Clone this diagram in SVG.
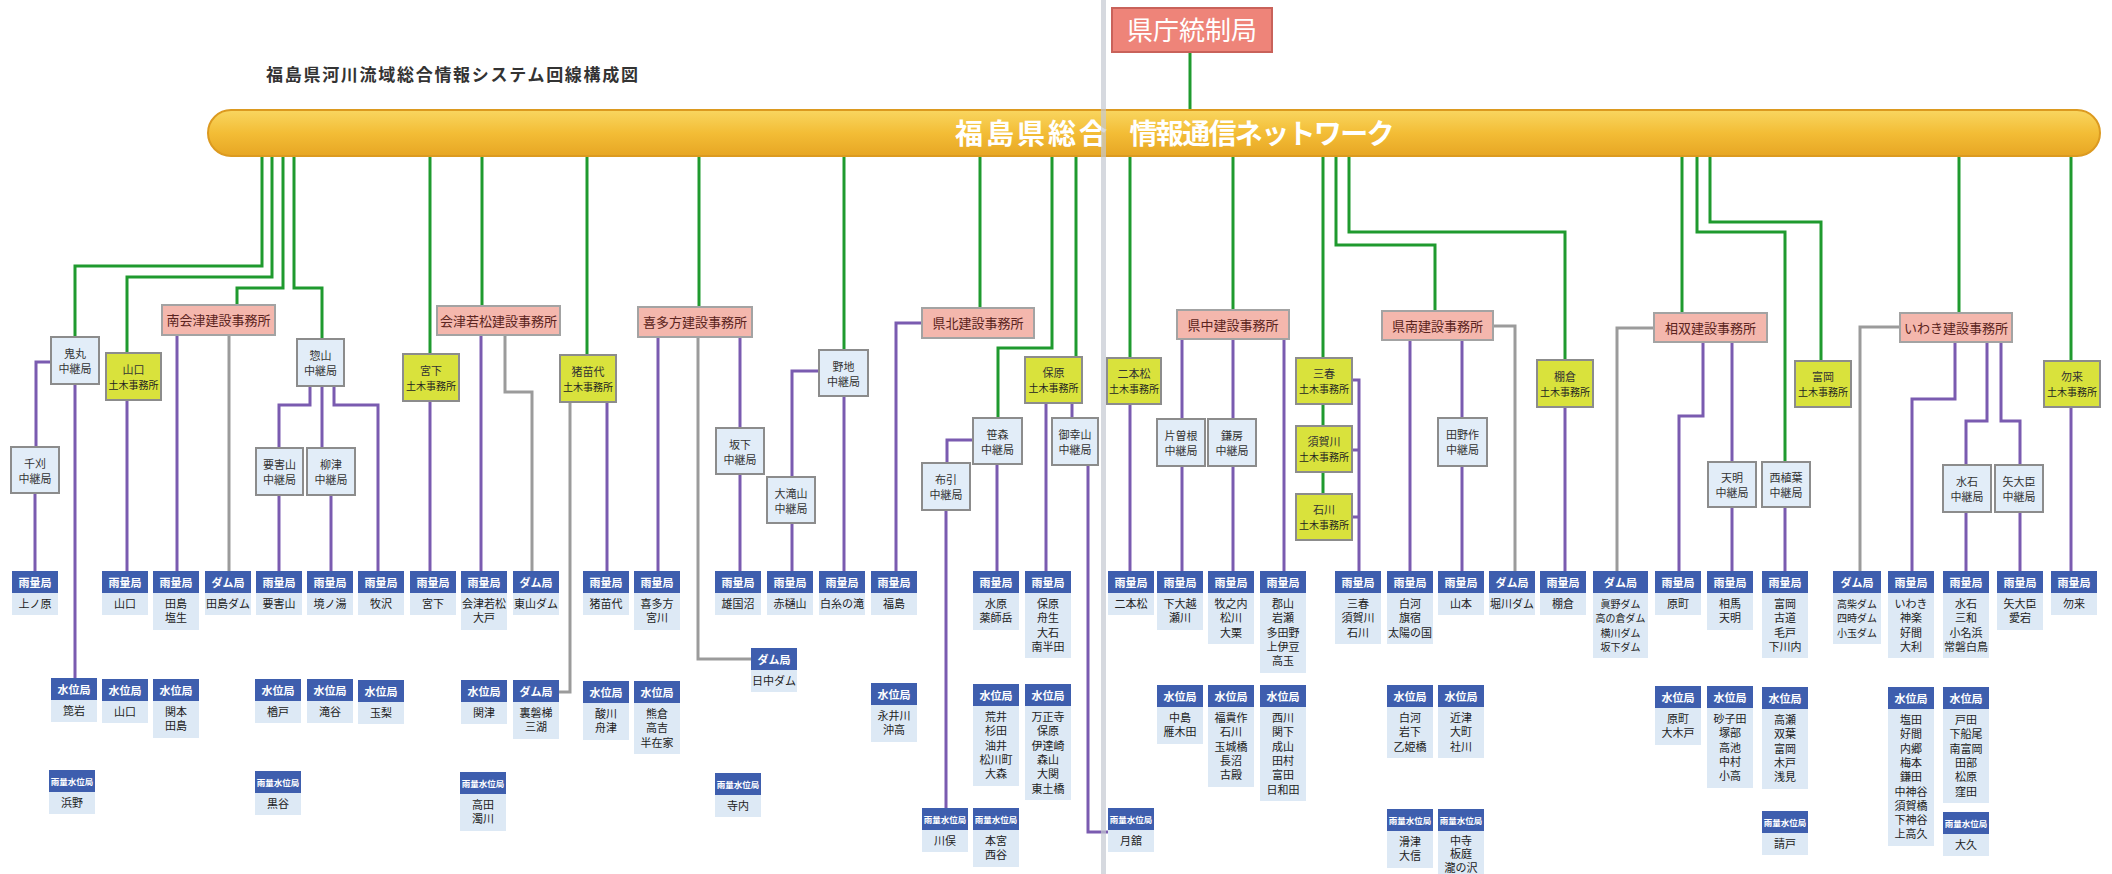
<svg xmlns="http://www.w3.org/2000/svg" width="2112" height="874" viewBox="0 0 2112 874">
<defs>
<linearGradient id="barg" x1="0" y1="0" x2="0" y2="1">
<stop offset="0" stop-color="#f9d660"/><stop offset="0.5" stop-color="#f3bd36"/><stop offset="1" stop-color="#e7a624"/>
</linearGradient>
</defs>
<style>
text{font-family:"Noto Sans CJK JP","Noto Sans",sans-serif;text-anchor:middle}
.hd{fill:#3e5eae}
.bd{fill:#dde9f5}
.ht{font-size:11px;font-weight:bold;fill:#fff}
.hs{font-size:8.5px;font-weight:bold;fill:#fff}
.bt{font-size:11px;fill:#222}
.bs{font-size:10px;fill:#222}
.relay{fill:#e2edf8;stroke:#8c8c8c;stroke-width:2}
.civ{fill:#d9e23c;stroke:#8c8c8c;stroke-width:2}
.off{fill:#f4b7ad;stroke:#a3a3a3;stroke-width:2}
.rt{font-size:11px;fill:#333}
.ct{font-size:10px;fill:#222}
.ot{font-size:13px;fill:#5b2420}
.g{stroke:#1f9a2e;stroke-width:3;fill:none}
.p{stroke:#7a5bb0;stroke-width:3;fill:none}
.gr{stroke:#9b9b9b;stroke-width:3;fill:none}
</style>
<rect width="2112" height="874" fill="#ffffff"/>
<text x="452" y="81" style="font-size:17px;font-weight:bold;fill:#333" textLength="372">福島県河川流域総合情報システム回線構成図</text>

<g id="connectors">
<g id="green">
<path class="g" d="M1190,52V112"/>
<path class="g" d="M262,155V266H75V337"/>
<path class="g" d="M272,155V277H127V353"/>
<path class="g" d="M283,155V288H237V305"/>
<path class="g" d="M294,155V288H322V339"/>
<path class="g" d="M430,155V354"/>
<path class="g" d="M482,155V306"/>
<path class="g" d="M587,155V355"/>
<path class="g" d="M699,155V307"/>
<path class="g" d="M844,155V350"/>
<path class="g" d="M980,155V308"/>
<path class="g" d="M1052,155V348H998V418"/>
<path class="g" d="M1076,155V357"/>
<path class="g" d="M1130,155V358"/>
<path class="g" d="M1233,155V310"/>
<path class="g" d="M1323,155V358M1323,404V426M1323,472V494"/>
<path class="g" d="M1336,155V245H1435V311"/>
<path class="g" d="M1349,155V232H1565V360"/>
<path class="g" d="M1682,155V313"/>
<path class="g" d="M1697,155V232H1785V462"/>
<path class="g" d="M1710,155V222H1821V361"/>
<path class="g" d="M1959,155V313"/>
<path class="g" d="M2071,155V361"/>
</g>
<g id="purple">
<path class="p" d="M51,362H36V447"/>
<path class="p" d="M35,493V571"/>
<path class="p" d="M75,384V678"/>
<path class="p" d="M127,400V571"/>
<path class="p" d="M177,335V571"/>
<path class="p" d="M310,386V405H279V448"/>
<path class="p" d="M322,386V448"/>
<path class="p" d="M334,386V405H378V571"/>
<path class="p" d="M279,495V571"/>
<path class="p" d="M331,495V571"/>
<path class="p" d="M430,401V571"/>
<path class="p" d="M481,335V571"/>
<path class="p" d="M607,402V571"/>
<path class="p" d="M658,337V571"/>
<path class="p" d="M740,337V428"/>
<path class="p" d="M740,474V571"/>
<path class="p" d="M819,371H792V477"/>
<path class="p" d="M792,523V571"/>
<path class="p" d="M844,396V571"/>
<path class="p" d="M922,323H896V571"/>
<path class="p" d="M973,440H947V463"/>
<path class="p" d="M946,510V808"/>
<path class="p" d="M997,464V571"/>
<path class="p" d="M1046,403V571"/>
<path class="p" d="M1072,403V418"/>
<path class="p" d="M1088,465V832H1108"/>
<path class="p" d="M1130,404V571"/>
<path class="p" d="M1182,339V419"/>
<path class="p" d="M1233,339V419"/>
<path class="p" d="M1284,339V571"/>
<path class="p" d="M1182,466V571"/>
<path class="p" d="M1233,466V571"/>
<path class="p" d="M1352,380H1359V571M1352,450H1359M1352,517H1359"/>
<path class="p" d="M1410,340V571"/>
<path class="p" d="M1462,340V418"/>
<path class="p" d="M1462,466V571"/>
<path class="p" d="M1565,407V571"/>
<path class="p" d="M1703,342V416H1679V571"/>
<path class="p" d="M1732,342V462"/>
<path class="p" d="M1732,507V571"/>
<path class="p" d="M1785,507V571"/>
<path class="p" d="M1955,342V399H1912V571"/>
<path class="p" d="M1987,342V421H1966V465"/>
<path class="p" d="M2001,342V421H2020V465"/>
<path class="p" d="M1966,512V571"/>
<path class="p" d="M2020,512V571"/>
<path class="p" d="M2071,407V571"/>
</g>
<g id="gray">
<path class="gr" d="M229,335V571"/>
<path class="gr" d="M505,335V392H532V571"/>
<path class="gr" d="M570,402V692H559"/>
<path class="gr" d="M698,337V659H751"/>
<path class="gr" d="M1493,326H1515V571"/>
<path class="gr" d="M1654,328H1617V571"/>
<path class="gr" d="M1900,327H1860V571"/>
</g>
</g>

<g id="kencho"><rect x="1112" y="8" width="160" height="44" fill="#ee8479" stroke="#c9625a" stroke-width="2"/><text x="1192" y="40" style="font-size:26px;fill:#fff">県庁統制局</text></g>

<g id="network"><rect x="208" y="110" width="1892" height="46" rx="23" fill="url(#barg)" stroke="#dc9a20" stroke-width="2"/>
<text x="1031" y="144" style="font-size:28px;font-weight:bold;fill:#fff" textLength="152">福島県総合</text>
<text x="1262" y="144" style="font-size:28px;font-weight:bold;fill:#fff" textLength="265">情報通信ネットワーク</text></g>

<g id="offices">
<g id="o-minamiaizu"><rect class="off" x="162" y="305" width="113" height="30"/><text class="ot" x="218.5" y="325">南会津建設事務所</text></g>
<g id="o-aizuwakamatsu"><rect class="off" x="437" y="306" width="123" height="29"/><text class="ot" x="498.5" y="325.5">会津若松建設事務所</text></g>
<g id="o-kitakata"><rect class="off" x="638" y="307" width="114" height="30"/><text class="ot" x="695" y="327">喜多方建設事務所</text></g>
<g id="o-kenpoku"><rect class="off" x="922" y="308" width="112" height="30"/><text class="ot" x="978" y="328">県北建設事務所</text></g>
<g id="o-kenchu"><rect class="off" x="1177" y="310" width="112" height="29"/><text class="ot" x="1233" y="329.5">県中建設事務所</text></g>
<g id="o-kennan"><rect class="off" x="1382" y="311" width="111" height="29"/><text class="ot" x="1437.5" y="330.5">県南建設事務所</text></g>
<g id="o-soso"><rect class="off" x="1654" y="313" width="113" height="29"/><text class="ot" x="1710.5" y="332.5">相双建設事務所</text></g>
<g id="o-iwaki"><rect class="off" x="1900" y="313" width="112" height="29"/><text class="ot" x="1956" y="332.5">いわき建設事務所</text></g>
</g>

<g id="civil">
<g id="c-yamaguchi"><rect class="civ" x="106" y="353" width="55" height="47"/><text class="rt" x="133.5" y="374">山口</text><text class="ct" x="133.5" y="389">土木事務所</text></g>
<g id="c-miyashita"><rect class="civ" x="403" y="354" width="56" height="47"/><text class="rt" x="431" y="375">宮下</text><text class="ct" x="431" y="390">土木事務所</text></g>
<g id="c-inawashiro"><rect class="civ" x="560" y="355" width="56" height="47"/><text class="rt" x="588" y="376">猪苗代</text><text class="ct" x="588" y="391">土木事務所</text></g>
<g id="c-hobara"><rect class="civ" x="1025" y="357" width="57" height="46"/><text class="rt" x="1053.5" y="377">保原</text><text class="ct" x="1053.5" y="392">土木事務所</text></g>
<g id="c-nihonmatsu"><rect class="civ" x="1107" y="358" width="54" height="46"/><text class="rt" x="1134" y="378">二本松</text><text class="ct" x="1134" y="393">土木事務所</text></g>
<g id="c-miharu"><rect class="civ" x="1296" y="358" width="56" height="46"/><text class="rt" x="1324" y="378">三春</text><text class="ct" x="1324" y="393">土木事務所</text></g>
<g id="c-sukagawa"><rect class="civ" x="1296" y="426" width="56" height="46"/><text class="rt" x="1324" y="446">須賀川</text><text class="ct" x="1324" y="461">土木事務所</text></g>
<g id="c-ishikawa"><rect class="civ" x="1296" y="494" width="56" height="46"/><text class="rt" x="1324" y="514">石川</text><text class="ct" x="1324" y="529">土木事務所</text></g>
<g id="c-tanagura"><rect class="civ" x="1537" y="360" width="56" height="47"/><text class="rt" x="1565" y="381">棚倉</text><text class="ct" x="1565" y="396">土木事務所</text></g>
<g id="c-tomioka"><rect class="civ" x="1795" y="361" width="56" height="46"/><text class="rt" x="1823" y="381">富岡</text><text class="ct" x="1823" y="396">土木事務所</text></g>
<g id="c-nakoso"><rect class="civ" x="2044" y="361" width="56" height="46"/><text class="rt" x="2072" y="381">勿来</text><text class="ct" x="2072" y="396">土木事務所</text></g>
</g>

<g id="relays">
<g id="r-onimaru"><rect class="relay" x="51" y="337" width="48" height="47"/><text class="rt" x="75" y="358">鬼丸</text><text class="rt" x="75" y="373">中継局</text></g>
<g id="r-sengari"><rect class="relay" x="11" y="447" width="48" height="46"/><text class="rt" x="35" y="468">千刈</text><text class="rt" x="35" y="483">中継局</text></g>
<g id="r-sozan"><rect class="relay" x="297" y="339" width="47" height="47"/><text class="rt" x="320.5" y="360">惣山</text><text class="rt" x="320.5" y="375">中継局</text></g>
<g id="r-yogaiyama"><rect class="relay" x="256" y="448" width="47" height="47"/><text class="rt" x="279.5" y="469">要害山</text><text class="rt" x="279.5" y="484">中継局</text></g>
<g id="r-yanaizu"><rect class="relay" x="307" y="448" width="48" height="47"/><text class="rt" x="331" y="469">柳津</text><text class="rt" x="331" y="484">中継局</text></g>
<g id="r-sakashita"><rect class="relay" x="716" y="428" width="48" height="46"/><text class="rt" x="740" y="449">坂下</text><text class="rt" x="740" y="464">中継局</text></g>
<g id="r-noji"><rect class="relay" x="819" y="350" width="49" height="46"/><text class="rt" x="843.5" y="371">野地</text><text class="rt" x="843.5" y="386">中継局</text></g>
<g id="r-otakiyama"><rect class="relay" x="767" y="477" width="48" height="46"/><text class="rt" x="791" y="498">大滝山</text><text class="rt" x="791" y="513">中継局</text></g>
<g id="r-sasamori"><rect class="relay" x="973" y="418" width="49" height="46"/><text class="rt" x="997.5" y="439">笹森</text><text class="rt" x="997.5" y="454">中継局</text></g>
<g id="r-nunobiki"><rect class="relay" x="922" y="463" width="48" height="47"/><text class="rt" x="946" y="484">布引</text><text class="rt" x="946" y="499">中継局</text></g>
<g id="r-miyukiyama"><rect class="relay" x="1052" y="418" width="46" height="47"/><text class="rt" x="1075" y="439">御幸山</text><text class="rt" x="1075" y="454">中継局</text></g>
<g id="r-katasone"><rect class="relay" x="1157" y="419" width="48" height="47"/><text class="rt" x="1181" y="440">片曽根</text><text class="rt" x="1181" y="455">中継局</text></g>
<g id="r-kamafusa"><rect class="relay" x="1208" y="419" width="48" height="47"/><text class="rt" x="1232" y="440">鎌房</text><text class="rt" x="1232" y="455">中継局</text></g>
<g id="r-tanosaku"><rect class="relay" x="1438" y="418" width="49" height="48"/><text class="rt" x="1462.5" y="439">田野作</text><text class="rt" x="1462.5" y="454">中継局</text></g>
<g id="r-tenmei"><rect class="relay" x="1708" y="462" width="48" height="45"/><text class="rt" x="1732" y="482">天明</text><text class="rt" x="1732" y="497">中継局</text></g>
<g id="r-nishiueba"><rect class="relay" x="1762" y="462" width="48" height="45"/><text class="rt" x="1786" y="482">西植葉</text><text class="rt" x="1786" y="497">中継局</text></g>
<g id="r-mizuishi"><rect class="relay" x="1943" y="465" width="48" height="47"/><text class="rt" x="1967" y="486">水石</text><text class="rt" x="1967" y="501">中継局</text></g>
<g id="r-yadaijin"><rect class="relay" x="1995" y="465" width="48" height="47"/><text class="rt" x="2019" y="486">矢大臣</text><text class="rt" x="2019" y="501">中継局</text></g>
</g>

<g id="stations-rain">
<g id="u1"><rect class="hd" x="12" y="571" width="46" height="22"/><text class="ht" x="35" y="586.5">雨量局</text><rect class="bd" x="12" y="593" width="46" height="22"/><text class="bt" x="35" y="608">上ノ原</text></g>
<g id="u2"><rect class="hd" x="102" y="571" width="46" height="22"/><text class="ht" x="125" y="586.5">雨量局</text><rect class="bd" x="102" y="593" width="46" height="22"/><text class="bt" x="125" y="608">山口</text></g>
<g id="u3"><rect class="hd" x="153" y="571" width="46" height="22"/><text class="ht" x="176" y="586.5">雨量局</text><rect class="bd" x="153" y="593" width="46" height="37"/><text class="bt" x="176" y="608">田島</text><text class="bt" x="176" y="622">塩生</text></g>
<g id="d1"><rect class="hd" x="205" y="571" width="46" height="22"/><text class="ht" x="228" y="586.5">ダム局</text><rect class="bd" x="205" y="593" width="46" height="22"/><text class="bt" x="228" y="608">田島ダム</text></g>
<g id="u4"><rect class="hd" x="256" y="571" width="46" height="22"/><text class="ht" x="279" y="586.5">雨量局</text><rect class="bd" x="256" y="593" width="46" height="22"/><text class="bt" x="279" y="608">要害山</text></g>
<g id="u5"><rect class="hd" x="307" y="571" width="46" height="22"/><text class="ht" x="330" y="586.5">雨量局</text><rect class="bd" x="307" y="593" width="46" height="22"/><text class="bt" x="330" y="608">境ノ湯</text></g>
<g id="u6"><rect class="hd" x="358" y="571" width="46" height="22"/><text class="ht" x="381" y="586.5">雨量局</text><rect class="bd" x="358" y="593" width="46" height="22"/><text class="bt" x="381" y="608">牧沢</text></g>
<g id="u7"><rect class="hd" x="410" y="571" width="46" height="22"/><text class="ht" x="433" y="586.5">雨量局</text><rect class="bd" x="410" y="593" width="46" height="22"/><text class="bt" x="433" y="608">宮下</text></g>
<g id="u8"><rect class="hd" x="461" y="571" width="46" height="22"/><text class="ht" x="484" y="586.5">雨量局</text><rect class="bd" x="461" y="593" width="46" height="37"/><text class="bt" x="484" y="608">会津若松</text><text class="bt" x="484" y="622">大戸</text></g>
<g id="d2"><rect class="hd" x="513" y="571" width="46" height="22"/><text class="ht" x="536" y="586.5">ダム局</text><rect class="bd" x="513" y="593" width="46" height="22"/><text class="bt" x="536" y="608">東山ダム</text></g>
<g id="u9"><rect class="hd" x="583" y="571" width="46" height="22"/><text class="ht" x="606" y="586.5">雨量局</text><rect class="bd" x="583" y="593" width="46" height="22"/><text class="bt" x="606" y="608">猪苗代</text></g>
<g id="u10"><rect class="hd" x="634" y="571" width="46" height="22"/><text class="ht" x="657" y="586.5">雨量局</text><rect class="bd" x="634" y="593" width="46" height="37"/><text class="bt" x="657" y="608">喜多方</text><text class="bt" x="657" y="622">宮川</text></g>
<g id="u11"><rect class="hd" x="715" y="571" width="46" height="22"/><text class="ht" x="738" y="586.5">雨量局</text><rect class="bd" x="715" y="593" width="46" height="22"/><text class="bt" x="738" y="608">雄国沼</text></g>
<g id="u12"><rect class="hd" x="767" y="571" width="46" height="22"/><text class="ht" x="790" y="586.5">雨量局</text><rect class="bd" x="767" y="593" width="46" height="22"/><text class="bt" x="790" y="608">赤樋山</text></g>
<g id="u13"><rect class="hd" x="819" y="571" width="46" height="22"/><text class="ht" x="842" y="586.5">雨量局</text><rect class="bd" x="819" y="593" width="46" height="22"/><text class="bt" x="842" y="608">白糸の滝</text></g>
<g id="u14"><rect class="hd" x="871" y="571" width="46" height="22"/><text class="ht" x="894" y="586.5">雨量局</text><rect class="bd" x="871" y="593" width="46" height="22"/><text class="bt" x="894" y="608">福島</text></g>
<g id="u15"><rect class="hd" x="973" y="571" width="46" height="22"/><text class="ht" x="996" y="586.5">雨量局</text><rect class="bd" x="973" y="593" width="46" height="37"/><text class="bt" x="996" y="608">水原</text><text class="bt" x="996" y="622">薬師岳</text></g>
<g id="u16"><rect class="hd" x="1025" y="571" width="46" height="22"/><text class="ht" x="1048" y="586.5">雨量局</text><rect class="bd" x="1025" y="593" width="46" height="65"/><text class="bt" x="1048" y="608">保原</text><text class="bt" x="1048" y="622">舟生</text><text class="bt" x="1048" y="637">大石</text><text class="bt" x="1048" y="651">南半田</text></g>
<g id="u17"><rect class="hd" x="1108" y="571" width="46" height="22"/><text class="ht" x="1131" y="586.5">雨量局</text><rect class="bd" x="1108" y="593" width="46" height="22"/><text class="bt" x="1131" y="608">二本松</text></g>
<g id="u18"><rect class="hd" x="1157" y="571" width="46" height="22"/><text class="ht" x="1180" y="586.5">雨量局</text><rect class="bd" x="1157" y="593" width="46" height="37"/><text class="bt" x="1180" y="608">下大越</text><text class="bt" x="1180" y="622">瀬川</text></g>
<g id="u19"><rect class="hd" x="1208" y="571" width="46" height="22"/><text class="ht" x="1231" y="586.5">雨量局</text><rect class="bd" x="1208" y="593" width="46" height="51"/><text class="bt" x="1231" y="608">牧之内</text><text class="bt" x="1231" y="622">松川</text><text class="bt" x="1231" y="637">大栗</text></g>
<g id="u20"><rect class="hd" x="1260" y="571" width="46" height="22"/><text class="ht" x="1283" y="586.5">雨量局</text><rect class="bd" x="1260" y="593" width="46" height="80"/><text class="bt" x="1283" y="608">郡山</text><text class="bt" x="1283" y="622">岩瀬</text><text class="bt" x="1283" y="637">多田野</text><text class="bt" x="1283" y="651">上伊豆</text><text class="bt" x="1283" y="665">高玉</text></g>
<g id="u21"><rect class="hd" x="1335" y="571" width="46" height="22"/><text class="ht" x="1358" y="586.5">雨量局</text><rect class="bd" x="1335" y="593" width="46" height="51"/><text class="bt" x="1358" y="608">三春</text><text class="bt" x="1358" y="622">須賀川</text><text class="bt" x="1358" y="637">石川</text></g>
<g id="u22"><rect class="hd" x="1387" y="571" width="46" height="22"/><text class="ht" x="1410" y="586.5">雨量局</text><rect class="bd" x="1387" y="593" width="46" height="51"/><text class="bt" x="1410" y="608">白河</text><text class="bt" x="1410" y="622">旗宿</text><text class="bt" x="1410" y="637">太陽の国</text></g>
<g id="u23"><rect class="hd" x="1438" y="571" width="46" height="22"/><text class="ht" x="1461" y="586.5">雨量局</text><rect class="bd" x="1438" y="593" width="46" height="22"/><text class="bt" x="1461" y="608">山本</text></g>
<g id="d3"><rect class="hd" x="1489" y="571" width="46" height="22"/><text class="ht" x="1512" y="586.5">ダム局</text><rect class="bd" x="1489" y="593" width="46" height="22"/><text class="bt" x="1512" y="608">堀川ダム</text></g>
<g id="u24"><rect class="hd" x="1540" y="571" width="46" height="22"/><text class="ht" x="1563" y="586.5">雨量局</text><rect class="bd" x="1540" y="593" width="46" height="22"/><text class="bt" x="1563" y="608">棚倉</text></g>
<g id="d4"><rect class="hd" x="1593" y="571" width="55" height="22"/><text class="ht" x="1620.5" y="586.5">ダム局</text><rect class="bd" x="1593" y="593" width="55" height="65"/><text class="bs" x="1620.5" y="608">眞野ダム</text><text class="bs" x="1620.5" y="622">高の倉ダム</text><text class="bs" x="1620.5" y="637">横川ダム</text><text class="bs" x="1620.5" y="651">坂下ダム</text></g>
<g id="u25"><rect class="hd" x="1655" y="571" width="46" height="22"/><text class="ht" x="1678" y="586.5">雨量局</text><rect class="bd" x="1655" y="593" width="46" height="22"/><text class="bt" x="1678" y="608">原町</text></g>
<g id="u26"><rect class="hd" x="1707" y="571" width="46" height="22"/><text class="ht" x="1730" y="586.5">雨量局</text><rect class="bd" x="1707" y="593" width="46" height="37"/><text class="bt" x="1730" y="608">相馬</text><text class="bt" x="1730" y="622">天明</text></g>
<g id="u27"><rect class="hd" x="1762" y="571" width="46" height="22"/><text class="ht" x="1785" y="586.5">雨量局</text><rect class="bd" x="1762" y="593" width="46" height="65"/><text class="bt" x="1785" y="608">富岡</text><text class="bt" x="1785" y="622">古道</text><text class="bt" x="1785" y="637">毛戸</text><text class="bt" x="1785" y="651">下川内</text></g>
<g id="d5"><rect class="hd" x="1833" y="571" width="48" height="22"/><text class="ht" x="1857" y="586.5">ダム局</text><rect class="bd" x="1833" y="593" width="48" height="51"/><text class="bs" x="1857" y="608">高柴ダム</text><text class="bs" x="1857" y="622">四時ダム</text><text class="bs" x="1857" y="637">小玉ダム</text></g>
<g id="u28"><rect class="hd" x="1888" y="571" width="46" height="22"/><text class="ht" x="1911" y="586.5">雨量局</text><rect class="bd" x="1888" y="593" width="46" height="65"/><text class="bt" x="1911" y="608">いわき</text><text class="bt" x="1911" y="622">神楽</text><text class="bt" x="1911" y="637">好間</text><text class="bt" x="1911" y="651">大利</text></g>
<g id="u29"><rect class="hd" x="1943" y="571" width="46" height="22"/><text class="ht" x="1966" y="586.5">雨量局</text><rect class="bd" x="1943" y="593" width="46" height="65"/><text class="bt" x="1966" y="608">水石</text><text class="bt" x="1966" y="622">三和</text><text class="bt" x="1966" y="637">小名浜</text><text class="bt" x="1966" y="651">常磐白鳥</text></g>
<g id="u30"><rect class="hd" x="1997" y="571" width="46" height="22"/><text class="ht" x="2020" y="586.5">雨量局</text><rect class="bd" x="1997" y="593" width="46" height="37"/><text class="bt" x="2020" y="608">矢大臣</text><text class="bt" x="2020" y="622">愛宕</text></g>
<g id="u31"><rect class="hd" x="2051" y="571" width="46" height="22"/><text class="ht" x="2074" y="586.5">雨量局</text><rect class="bd" x="2051" y="593" width="46" height="22"/><text class="bt" x="2074" y="608">勿来</text></g>
</g>

<g id="stations-level">
<g id="w1"><rect class="hd" x="51" y="678" width="46" height="22"/><text class="ht" x="74" y="693.5">水位局</text><rect class="bd" x="51" y="700" width="46" height="22"/><text class="bt" x="74" y="715">箆岩</text></g>
<g id="w2"><rect class="hd" x="102" y="679" width="46" height="22"/><text class="ht" x="125" y="694.5">水位局</text><rect class="bd" x="102" y="701" width="46" height="22"/><text class="bt" x="125" y="716">山口</text></g>
<g id="w3"><rect class="hd" x="153" y="679" width="46" height="22"/><text class="ht" x="176" y="694.5">水位局</text><rect class="bd" x="153" y="701" width="46" height="37"/><text class="bt" x="176" y="716">関本</text><text class="bt" x="176" y="730">田島</text></g>
<g id="w4"><rect class="hd" x="255" y="679" width="46" height="22"/><text class="ht" x="278" y="694.5">水位局</text><rect class="bd" x="255" y="701" width="46" height="22"/><text class="bt" x="278" y="716">楢戸</text></g>
<g id="w5"><rect class="hd" x="307" y="679" width="46" height="22"/><text class="ht" x="330" y="694.5">水位局</text><rect class="bd" x="307" y="701" width="46" height="22"/><text class="bt" x="330" y="716">滝谷</text></g>
<g id="w6"><rect class="hd" x="358" y="680" width="46" height="22"/><text class="ht" x="381" y="695.5">水位局</text><rect class="bd" x="358" y="702" width="46" height="22"/><text class="bt" x="381" y="717">玉梨</text></g>
<g id="w7"><rect class="hd" x="461" y="680" width="46" height="22"/><text class="ht" x="484" y="695.5">水位局</text><rect class="bd" x="461" y="702" width="46" height="22"/><text class="bt" x="484" y="717">関津</text></g>
<g id="d6"><rect class="hd" x="513" y="680" width="46" height="22"/><text class="ht" x="536" y="695.5">ダム局</text><rect class="bd" x="513" y="702" width="46" height="37"/><text class="bt" x="536" y="717">裏磐梯</text><text class="bt" x="536" y="731">三湖</text></g>
<g id="w8"><rect class="hd" x="583" y="681" width="46" height="22"/><text class="ht" x="606" y="696.5">水位局</text><rect class="bd" x="583" y="703" width="46" height="37"/><text class="bt" x="606" y="718">酸川</text><text class="bt" x="606" y="732">舟津</text></g>
<g id="w9"><rect class="hd" x="634" y="681" width="46" height="22"/><text class="ht" x="657" y="696.5">水位局</text><rect class="bd" x="634" y="703" width="46" height="51"/><text class="bt" x="657" y="718">熊倉</text><text class="bt" x="657" y="732">高吉</text><text class="bt" x="657" y="747">半在家</text></g>
<g id="d7"><rect class="hd" x="751" y="648" width="46" height="22"/><text class="ht" x="774" y="663.5">ダム局</text><rect class="bd" x="751" y="670" width="46" height="22"/><text class="bt" x="774" y="685">日中ダム</text></g>
<g id="w10"><rect class="hd" x="871" y="683" width="46" height="22"/><text class="ht" x="894" y="698.5">水位局</text><rect class="bd" x="871" y="705" width="46" height="37"/><text class="bt" x="894" y="720">永井川</text><text class="bt" x="894" y="734">沖高</text></g>
<g id="w11"><rect class="hd" x="973" y="684" width="46" height="22"/><text class="ht" x="996" y="699.5">水位局</text><rect class="bd" x="973" y="706" width="46" height="80"/><text class="bt" x="996" y="721">荒井</text><text class="bt" x="996" y="735">杉田</text><text class="bt" x="996" y="750">油井</text><text class="bt" x="996" y="764">松川町</text><text class="bt" x="996" y="778">大森</text></g>
<g id="w12"><rect class="hd" x="1025" y="684" width="46" height="22"/><text class="ht" x="1048" y="699.5">水位局</text><rect class="bd" x="1025" y="706" width="46" height="94"/><text class="bt" x="1048" y="721">万正寺</text><text class="bt" x="1048" y="735">保原</text><text class="bt" x="1048" y="750">伊達崎</text><text class="bt" x="1048" y="764">森山</text><text class="bt" x="1048" y="778">大関</text><text class="bt" x="1048" y="793">東土橋</text></g>
<g id="w13"><rect class="hd" x="1157" y="685" width="46" height="22"/><text class="ht" x="1180" y="700.5">水位局</text><rect class="bd" x="1157" y="707" width="46" height="37"/><text class="bt" x="1180" y="722">中島</text><text class="bt" x="1180" y="736">雁木田</text></g>
<g id="w14"><rect class="hd" x="1208" y="685" width="46" height="22"/><text class="ht" x="1231" y="700.5">水位局</text><rect class="bd" x="1208" y="707" width="46" height="80"/><text class="bt" x="1231" y="722">福貴作</text><text class="bt" x="1231" y="736">石川</text><text class="bt" x="1231" y="751">玉城橋</text><text class="bt" x="1231" y="765">長沼</text><text class="bt" x="1231" y="779">古殿</text></g>
<g id="w15"><rect class="hd" x="1260" y="685" width="46" height="22"/><text class="ht" x="1283" y="700.5">水位局</text><rect class="bd" x="1260" y="707" width="46" height="94"/><text class="bt" x="1283" y="722">西川</text><text class="bt" x="1283" y="736">関下</text><text class="bt" x="1283" y="751">成山</text><text class="bt" x="1283" y="765">田村</text><text class="bt" x="1283" y="779">富田</text><text class="bt" x="1283" y="794">日和田</text></g>
<g id="w16"><rect class="hd" x="1387" y="685" width="46" height="22"/><text class="ht" x="1410" y="700.5">水位局</text><rect class="bd" x="1387" y="707" width="46" height="51"/><text class="bt" x="1410" y="722">白河</text><text class="bt" x="1410" y="736">岩下</text><text class="bt" x="1410" y="751">乙姫橋</text></g>
<g id="w17"><rect class="hd" x="1438" y="685" width="46" height="22"/><text class="ht" x="1461" y="700.5">水位局</text><rect class="bd" x="1438" y="707" width="46" height="51"/><text class="bt" x="1461" y="722">近津</text><text class="bt" x="1461" y="736">大町</text><text class="bt" x="1461" y="751">社川</text></g>
<g id="w18"><rect class="hd" x="1655" y="686" width="46" height="22"/><text class="ht" x="1678" y="701.5">水位局</text><rect class="bd" x="1655" y="708" width="46" height="37"/><text class="bt" x="1678" y="723">原町</text><text class="bt" x="1678" y="737">大木戸</text></g>
<g id="w19"><rect class="hd" x="1707" y="686" width="46" height="22"/><text class="ht" x="1730" y="701.5">水位局</text><rect class="bd" x="1707" y="708" width="46" height="80"/><text class="bt" x="1730" y="723">砂子田</text><text class="bt" x="1730" y="737">塚部</text><text class="bt" x="1730" y="752">高池</text><text class="bt" x="1730" y="766">中村</text><text class="bt" x="1730" y="780">小高</text></g>
<g id="w20"><rect class="hd" x="1762" y="687" width="46" height="22"/><text class="ht" x="1785" y="702.5">水位局</text><rect class="bd" x="1762" y="709" width="46" height="80"/><text class="bt" x="1785" y="724">高瀬</text><text class="bt" x="1785" y="738">双葉</text><text class="bt" x="1785" y="753">富岡</text><text class="bt" x="1785" y="767">木戸</text><text class="bt" x="1785" y="781">浅見</text></g>
<g id="w21"><rect class="hd" x="1888" y="687" width="46" height="22"/><text class="ht" x="1911" y="702.5">水位局</text><rect class="bd" x="1888" y="709" width="46" height="137"/><text class="bt" x="1911" y="724">塩田</text><text class="bt" x="1911" y="738">好間</text><text class="bt" x="1911" y="753">内郷</text><text class="bt" x="1911" y="767">梅本</text><text class="bt" x="1911" y="781">鎌田</text><text class="bt" x="1911" y="796">中神谷</text><text class="bt" x="1911" y="810">須賀橋</text><text class="bt" x="1911" y="824">下神谷</text><text class="bt" x="1911" y="838">上高久</text></g>
<g id="w22"><rect class="hd" x="1943" y="687" width="46" height="22"/><text class="ht" x="1966" y="702.5">水位局</text><rect class="bd" x="1943" y="709" width="46" height="94"/><text class="bt" x="1966" y="724">戸田</text><text class="bt" x="1966" y="738">下船尾</text><text class="bt" x="1966" y="753">南富岡</text><text class="bt" x="1966" y="767">田部</text><text class="bt" x="1966" y="781">松原</text><text class="bt" x="1966" y="796">窪田</text></g>
</g>

<g id="stations-rainlevel">
<g id="r1"><rect class="hd" x="49" y="770" width="46" height="22"/><text class="hs" x="72" y="784.5">雨量水位局</text><rect class="bd" x="49" y="792" width="46" height="22"/><text class="bt" x="72" y="807">浜野</text></g>
<g id="r2"><rect class="hd" x="255" y="771" width="46" height="22"/><text class="hs" x="278" y="785.5">雨量水位局</text><rect class="bd" x="255" y="793" width="46" height="22"/><text class="bt" x="278" y="808">黒谷</text></g>
<g id="r3"><rect class="hd" x="460" y="772" width="46" height="22"/><text class="hs" x="483" y="786.5">雨量水位局</text><rect class="bd" x="460" y="794" width="46" height="37"/><text class="bt" x="483" y="809">高田</text><text class="bt" x="483" y="823">濁川</text></g>
<g id="r4"><rect class="hd" x="715" y="773" width="46" height="22"/><text class="hs" x="738" y="787.5">雨量水位局</text><rect class="bd" x="715" y="795" width="46" height="22"/><text class="bt" x="738" y="810">寺内</text></g>
<g id="r5"><rect class="hd" x="922" y="808" width="46" height="22"/><text class="hs" x="945" y="822.5">雨量水位局</text><rect class="bd" x="922" y="830" width="46" height="22"/><text class="bt" x="945" y="845">川俣</text></g>
<g id="r6"><rect class="hd" x="973" y="808" width="46" height="22"/><text class="hs" x="996" y="822.5">雨量水位局</text><rect class="bd" x="973" y="830" width="46" height="37"/><text class="bt" x="996" y="845">本宮</text><text class="bt" x="996" y="859">西谷</text></g>
<g id="r7"><rect class="hd" x="1108" y="808" width="46" height="22"/><text class="hs" x="1131" y="822.5">雨量水位局</text><rect class="bd" x="1108" y="830" width="46" height="22"/><text class="bt" x="1131" y="845">月舘</text></g>
<g id="r8"><rect class="hd" x="1387" y="809" width="46" height="22"/><text class="hs" x="1410" y="823.5">雨量水位局</text><rect class="bd" x="1387" y="831" width="46" height="37"/><text class="bt" x="1410" y="846">滑津</text><text class="bt" x="1410" y="860">大信</text></g>
<g id="r9"><rect class="hd" x="1438" y="809" width="46" height="22"/><text class="hs" x="1461" y="823.5">雨量水位局</text><rect class="bd" x="1438" y="831" width="46" height="45"/><text class="bt" x="1461" y="845">中寺</text><text class="bt" x="1461" y="858">板庭</text><text class="bt" x="1461" y="872">瀧の沢</text></g>
<g id="r10"><rect class="hd" x="1762" y="811" width="46" height="22"/><text class="hs" x="1785" y="825.5">雨量水位局</text><rect class="bd" x="1762" y="833" width="46" height="22"/><text class="bt" x="1785" y="848">請戸</text></g>
<g id="r11"><rect class="hd" x="1943" y="812" width="46" height="22"/><text class="hs" x="1966" y="826.5">雨量水位局</text><rect class="bd" x="1943" y="834" width="46" height="22"/><text class="bt" x="1966" y="849">大久</text></g>
</g>

<rect id="fold" x="1101" y="0" width="5" height="874" fill="#c4c9d2" opacity="0.7"/>
</svg>
